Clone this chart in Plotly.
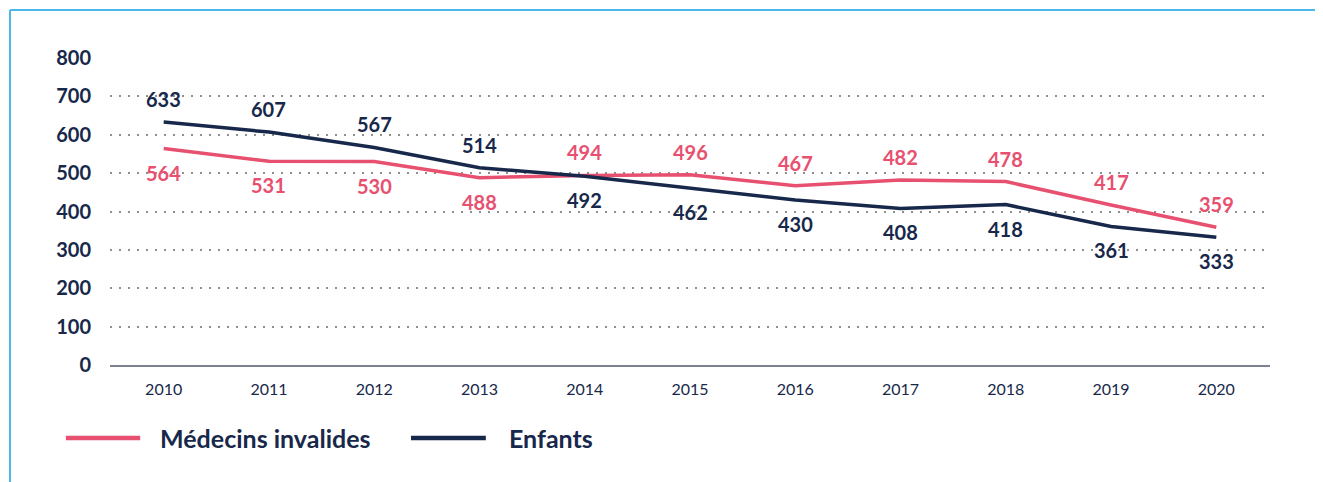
import plotly.graph_objects as go

years = [2010, 2011, 2012, 2013, 2014, 2015, 2016, 2017, 2018, 2019, 2020]
medecins = [564, 531, 530, 488, 494, 496, 467, 482, 478, 417, 359]
enfants = [633, 607, 567, 514, 492, 462, 430, 408, 418, 361, 333]
# label above (+1) or below (-1) the point
medecins_side = [-1, -1, -1, -1, 1, 1, 1, 1, 1, 1, 1]
enfants_side = [1, 1, 1, 1, -1, -1, -1, -1, -1, -1, -1]

PINK = "#e8506f"
NAVY = "#17284a"
FONT = "Lato"

fig = go.Figure()

series = [
    ("Médecins invalides", medecins, medecins_side, PINK),
    ("Enfants", enfants, enfants_side, NAVY),
]

for name, values, sides, color in series:
    fig.add_trace(go.Scatter(
        x=years, y=values, mode="lines", name=name,
        line=dict(color=color, width=3.5),
        showlegend=False,
    ))
    # value labels
    for x, y, s in zip(years, values, sides):
        fig.add_annotation(
            x=x, y=y, text=str(y), showarrow=False,
            yshift=23 * s if s > 0 else -24,
            font=dict(family=FONT, size=20, color=color, weight="bold"),
        )

# legend drawn by hand so the line samples are long like the original
legend_y = -0.238
legend_items = [(-0.038, 0.026, 0.041), (0.2595, 0.324, 0.342)]
for (x0, x1, tx), (name, _, _, color) in zip(legend_items, series):
    fig.add_shape(type="line", xref="paper", yref="paper",
                  x0=x0, x1=x1, y0=legend_y, y1=legend_y,
                  line=dict(color=color, width=4.5))
    fig.add_annotation(xref="paper", yref="paper", x=tx, y=legend_y,
                       text=name, showarrow=False, xanchor="left", yanchor="middle",
                       font=dict(family=FONT, size=25, color=NAVY, weight="bold"))

# light blue frame (top and left edges)
fig.add_shape(type="line", xref="paper", yref="paper",
              x0=-0.0862, x1=1.05, y0=1.156, y1=1.156,
              line=dict(color="#4cb8e9", width=2))
fig.add_shape(type="line", xref="paper", yref="paper",
              x0=-0.0862, x1=-0.0862, y0=1.156, y1=-0.4,
              line=dict(color="#4cb8e9", width=2))

fig.update_xaxes(
    range=[2009.49, 2020.51],
    tickmode="array", tickvals=years,
    showgrid=False, zeroline=False,
    showline=True, linecolor="#7b8391", linewidth=2,
    ticks="", ticklabelstandoff=9,
    tickfont=dict(family=FONT, size=16, color=NAVY),
)
fig.update_yaxes(
    range=[0, 800], dtick=100,
    showgrid=True, gridcolor="#8f8f8f", gridwidth=2, griddash="2px,7px",
    zeroline=False, showline=False,
    ticks="", ticklabelstandoff=18,
    tickfont=dict(family=FONT, size=20, color=NAVY, weight="bold"),
)

# the page adds an 8px body margin, so the figure is 8px smaller than the window
fig.update_layout(
    width=1315, height=474,
    margin=dict(l=102, r=53, t=50, b=117),
    plot_bgcolor="white", paper_bgcolor="white",
    showlegend=False,
)

fig.write_html("out.html")
